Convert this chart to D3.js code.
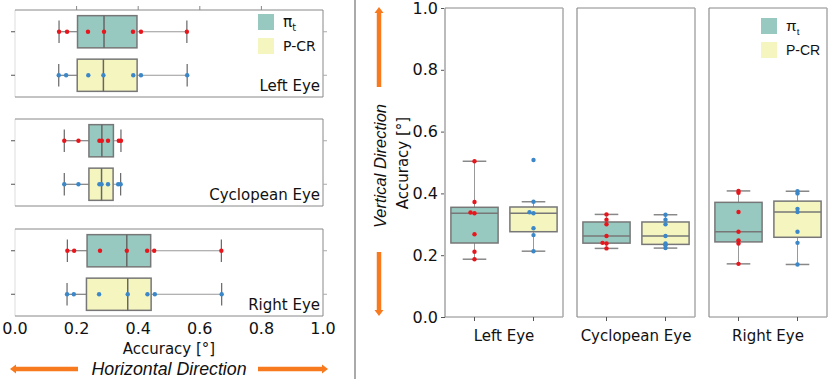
<!DOCTYPE html>
<html>
<head>
<meta charset="utf-8">
<script src="https://cdn.jsdelivr.net/npm/d3@7"></script>
<style>
  body { margin: 0; background: #fff; }
  svg { display: block; }
  text { font-family: "DejaVu Sans", sans-serif; fill: #111; }
</style>
</head>
<body>
<svg id="chart" width="831" height="379"></svg>
<script>
// categories
var eyes = ["Left Eye", "Cyclopean Eye", "Right Eye"];
var methods = ["pit", "pcr"];
var axisTicks = [0, 0.2, 0.4, 0.6, 0.8, 1.0];

// horizontal accuracy [deg], one list of participants per eye
var horizPit = [
  [0.143, 0.169, 0.237, 0.289, 0.383, 0.409, 0.558],
  [0.160, 0.206, 0.274, 0.282, 0.302, 0.337, 0.344],
  [0.170, 0.192, 0.276, 0.363, 0.429, 0.452, 0.670]
];
var horizPcr = [
  [0.142, 0.166, 0.238, 0.287, 0.384, 0.409, 0.559],
  [0.160, 0.206, 0.274, 0.281, 0.302, 0.335, 0.343],
  [0.169, 0.191, 0.273, 0.366, 0.430, 0.454, 0.671]
];

// vertical accuracy [deg]
var vertPit = [
  [0.187, 0.211, 0.268, 0.336, 0.338, 0.372, 0.504],
  [0.222, 0.238, 0.240, 0.262, 0.300, 0.315, 0.332],
  [0.172, 0.238, 0.248, 0.276, 0.340, 0.402, 0.408]
];
var vertPcr = [
  [0.213, 0.265, 0.287, 0.336, 0.339, 0.373, 0.508],
  [0.223, 0.232, 0.238, 0.262, 0.300, 0.315, 0.331],
  [0.170, 0.240, 0.276, 0.340, 0.350, 0.400, 0.407]
];

var boxFill = { pit: "#97c9c1", pcr: "#f5f5c0" };
var dotFill = { pit: "#e8161c", pcr: "#3c87c7" };
var edge = "#777";
var orange = "#f77a1e";

var svg = d3.select("#chart");

function stats(vals) {
  var s = vals.slice().sort(d3.ascending);
  var q1 = d3.quantile(s, 0.25), q2 = d3.quantile(s, 0.5), q3 = d3.quantile(s, 0.75);
  var iqr = q3 - q1;
  var lo = d3.min(s.filter(function(v) { return v >= q1 - 1.5 * iqr; }));
  var hi = d3.max(s.filter(function(v) { return v <= q3 + 1.5 * iqr; }));
  return { q1: q1, q2: q2, q3: q3, lo: lo, hi: hi, vals: s };
}

// ---------------- left panel : horizontal direction ----------------
var x = d3.scaleLinear().domain([0, 1]).range([15, 323]);
var subTops = [10, 119, 229], subH = 87;

eyes.forEach(function(eye, i) {
  var g = svg.append("g");
  var top = subTops[i];
  var row = d3.scaleBand().domain(methods).range([top, top + subH]);
  var bh = row.bandwidth() * 0.74;

  // frame
  g.append("line").attr("x1", 15).attr("x2", 15).attr("y1", top).attr("y2", top + subH).attr("stroke", "#ddd");
  g.append("rect").attr("x", 15).attr("y", top).attr("width", 308).attr("height", subH)
    .attr("fill", "none").attr("stroke", "#888").attr("stroke-width", 1)
    .attr("stroke-dasharray", "308," + subH + ",308," + subH);
  g.append("line").attr("x1", 323).attr("x2", 323).attr("y1", top).attr("y2", top + subH).attr("stroke", "#888");

  // row ticks on both sides
  methods.forEach(function(m) {
    var cy = row(m) + row.bandwidth() / 2;
    g.append("line").attr("x1", 11).attr("x2", 15).attr("y1", cy).attr("y2", cy).attr("stroke", "#555");
    g.append("line").attr("x1", 323).attr("x2", 327).attr("y1", cy).attr("y2", cy).attr("stroke", "#aaa");
  });

  if (i === 0) {
    axisTicks.slice(1, 5).forEach(function(t) {
      g.append("line").attr("x1", x(t)).attr("x2", x(t)).attr("y1", top - 4).attr("y2", top).attr("stroke", "#888");
    });
  }

  var data = { pit: horizPit[i], pcr: horizPcr[i] };
  methods.forEach(function(m) {
    var s = stats(data[m]);
    var cy = row(m) + row.bandwidth() / 2;
    g.append("line").attr("x1", x(s.lo)).attr("x2", x(s.q1)).attr("y1", cy).attr("y2", cy).attr("stroke", "#666");
    g.append("line").attr("x1", x(s.q3)).attr("x2", x(s.hi)).attr("y1", cy).attr("y2", cy).attr("stroke", "#999");
    [s.lo, s.hi].forEach(function(v) {
      g.append("line").attr("x1", x(v)).attr("x2", x(v)).attr("y1", cy - bh * 0.35).attr("y2", cy + bh * 0.35)
        .attr("stroke", "#666").attr("stroke-width", 1.2);
    });
    g.append("rect").attr("x", x(s.q1)).attr("y", cy - bh / 2).attr("width", x(s.q3) - x(s.q1)).attr("height", bh)
      .attr("fill", boxFill[m]).attr("stroke", edge).attr("stroke-width", 1.5);
    g.append("line").attr("x1", x(s.q2)).attr("x2", x(s.q2)).attr("y1", cy - bh / 2).attr("y2", cy + bh / 2)
      .attr("stroke", "#666").attr("stroke-width", 1.5);
    g.selectAll(null).data(s.vals).enter().append("circle")
      .attr("cx", function(d) { return x(d); }).attr("cy", cy).attr("r", 2.2).attr("fill", dotFill[m]);
  });

  g.append("text").attr("x", 320).attr("y", top + subH - 6).attr("text-anchor", "end")
    .style("font-size", "15px").text(eye);
});

// legend
function legend(x0, y0, size, fs, gap, family) {
  var lg = svg.append("g");
  methods.forEach(function(m, k) {
    var yy = y0 + k * gap;
    lg.append("rect").attr("x", x0).attr("y", yy).attr("width", size).attr("height", size).attr("fill", boxFill[m]);
    var t = lg.append("text").attr("x", x0 + size + 9).attr("y", yy + size / 2 + fs * 0.36)
      .style("font-size", fs + "px").style("font-family", family);
    if (m === "pit") {
      t.append("tspan").style("font-size", (fs * 1.1) + "px").text("π");
      t.append("tspan").attr("dy", fs * 0.3).style("font-size", (fs * 0.7) + "px").text("t");
    } else {
      t.text("P-CR");
    }
  });
}
legend(258, 14, 16, 14, 24, "'DejaVu Sans', sans-serif");

// bottom axis labels
var xTickG = svg.append("g");
axisTicks.forEach(function(t) {
  xTickG.append("text").attr("x", x(t)).attr("y", 334).attr("text-anchor", "middle")
    .style("font-size", "16px").text(d3.format(".1f")(t));
});
svg.append("text").attr("x", 169).attr("y", 354).attr("text-anchor", "middle")
  .style("font-size", "15px").text("Accuracy [°]");
svg.append("text").attr("x", 169).attr("y", 375).attr("text-anchor", "middle")
  .style("font-family", "'Liberation Sans', sans-serif").style("font-style", "italic")
  .style("font-size", "17.8px").text("Horizontal Direction");

function arrow(x1, y1, x2, y2) {
  // shaft from (x1,y1) to tip (x2,y2)
  var ang = Math.atan2(y2 - y1, x2 - x1);
  var hl = 6, hw = 4.5;
  var bx = x2 - hl * Math.cos(ang), by = y2 - hl * Math.sin(ang);
  svg.append("line").attr("x1", x1).attr("y1", y1).attr("x2", bx).attr("y2", by)
    .attr("stroke", orange).attr("stroke-width", 4.5);
  var px = -Math.sin(ang) * hw, py = Math.cos(ang) * hw;
  svg.append("path").attr("d", "M" + x2 + "," + y2 + "L" + (bx + px) + "," + (by + py) + "L" + (bx - px) + "," + (by - py) + "Z")
    .attr("fill", orange);
}
arrow(78, 369, 10, 369);
arrow(258, 369, 328, 369);

// separator
svg.append("line").attr("x1", 355).attr("x2", 355).attr("y1", 0).attr("y2", 379)
  .attr("stroke", "#aaa").attr("stroke-width", 2);

// ---------------- right panel : vertical direction ----------------
var y = d3.scaleLinear().domain([0, 1]).range([317, 8]);
var subLefts = [445, 577, 709], subW = 118;

var yAxis = svg.append("g").attr("transform", "translate(445,0)")
  .call(d3.axisLeft(y).tickValues(axisTicks).tickFormat(d3.format(".1f")).tickSize(4).tickPadding(3));
yAxis.select(".domain").remove();
yAxis.selectAll(".tick line").attr("stroke", "#555");
yAxis.selectAll("text").style("font-size", "16px").style("font-family", "'DejaVu Sans', sans-serif").attr("fill", "#111");

eyes.forEach(function(eye, i) {
  var g = svg.append("g");
  var left = subLefts[i];
  var col = d3.scaleBand().domain(methods).range([left, left + subW]);
  var bw = col.bandwidth() * 0.8;

  // frame
  g.append("line").attr("x1", left).attr("x2", left).attr("y1", y(1)).attr("y2", y(0)).attr("stroke", "#bbb").attr("stroke-width", 2);
  g.append("line").attr("x1", left).attr("x2", left + subW).attr("y1", y(1)).attr("y2", y(1)).attr("stroke", "#888");
  g.append("line").attr("x1", left).attr("x2", left + subW).attr("y1", y(0)).attr("y2", y(0)).attr("stroke", "#888");
  g.append("line").attr("x1", left + subW).attr("x2", left + subW).attr("y1", y(1)).attr("y2", y(0)).attr("stroke", "#aaa").attr("stroke-width", 1.5);

  var data = { pit: vertPit[i], pcr: vertPcr[i] };
  methods.forEach(function(m) {
    var s = stats(data[m]);
    var cx = col(m) + col.bandwidth() / 2;
    g.append("line").attr("x1", cx).attr("x2", cx).attr("y1", y(0)).attr("y2", y(0) + 4).attr("stroke", "#555");
    g.append("line").attr("x1", cx).attr("x2", cx).attr("y1", y(s.hi)).attr("y2", y(s.q3)).attr("stroke", "#999");
    g.append("line").attr("x1", cx).attr("x2", cx).attr("y1", y(s.q1)).attr("y2", y(s.lo)).attr("stroke", "#999");
    [s.lo, s.hi].forEach(function(v) {
      g.append("line").attr("x1", cx - bw / 4).attr("x2", cx + bw / 4).attr("y1", y(v)).attr("y2", y(v))
        .attr("stroke", "#888").attr("stroke-width", 1.5);
    });
    g.append("rect").attr("x", cx - bw / 2).attr("y", y(s.q3)).attr("width", bw).attr("height", y(s.q1) - y(s.q3))
      .attr("fill", boxFill[m]).attr("stroke", edge).attr("stroke-width", 1.5);
    g.append("line").attr("x1", cx - bw / 2).attr("x2", cx + bw / 2).attr("y1", y(s.q2)).attr("y2", y(s.q2))
      .attr("stroke", "#777").attr("stroke-width", 1.5);

    // simple swarm: nudge points that sit on top of each other
    var placed = [];
    s.vals.forEach(function(v) {
      var py = y(v), off = 0;
      while (placed.some(function(p) { return p.off === off && Math.abs(p.py - py) < 1.5; })) off -= 4;
      placed.push({ py: py, off: off });
    });
    g.selectAll(null).data(placed).enter().append("circle")
      .attr("cx", function(d) { return cx + d.off; }).attr("cy", function(d) { return d.py; })
      .attr("r", 2.2).attr("fill", dotFill[m]);
  });

  g.append("text").attr("x", left + subW / 2).attr("y", 341).attr("text-anchor", "middle")
    .style("font-size", "15px").text(eye);
});

legend(761, 18, 16, 14, 24, "'Liberation Sans', sans-serif");

svg.append("text").attr("transform", "translate(408,163) rotate(-90)").attr("text-anchor", "middle")
  .style("font-size", "15px").text("Accuracy [°]");
svg.append("text").attr("transform", "translate(386,166) rotate(-90)").attr("text-anchor", "middle")
  .style("font-family", "'Liberation Sans', sans-serif").style("font-style", "italic")
  .style("font-size", "16.5px").text("Vertical Direction");

arrow(379, 87, 379, 7);
arrow(379, 252, 379, 316);
</script>
</body>
</html>
